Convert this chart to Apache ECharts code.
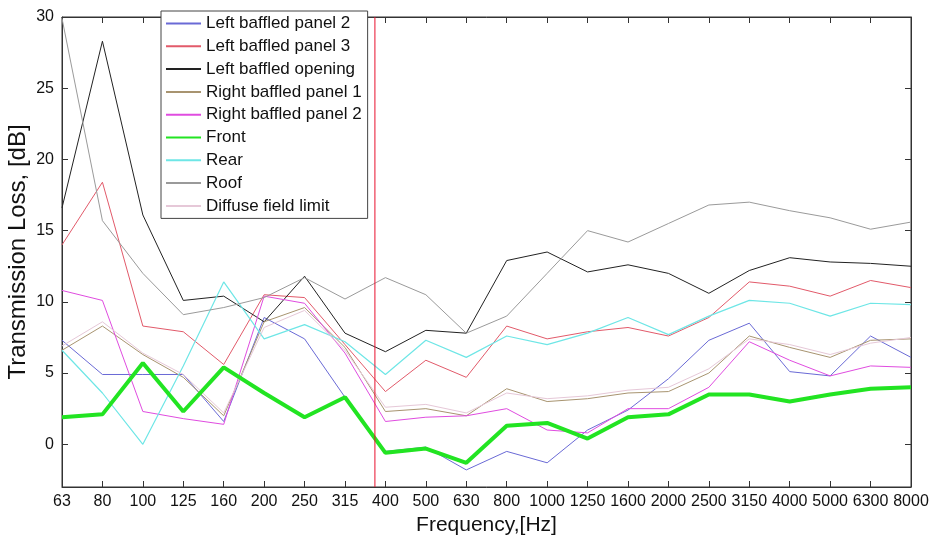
<!DOCTYPE html>
<html>
<head>
<meta charset="utf-8">
<script src="https://cdn.jsdelivr.net/npm/echarts@6/dist/echarts.min.js"></script>
<style>
  html, body { margin: 0; padding: 0; background: #fff; }
  #chart { width: 931px; height: 539px; }
</style>
</head>
<body>
<div id="chart"></div>
<script>
// One-third octave band centre frequencies [Hz]
const freqLabels = ['63','80','100','125','160','200','250','315','400','500','630',
  '800','1000','1250','1600','2000','2500','3150','4000','5000','6300','8000'];

// Transmission loss per band [dB]
const leftPanel2   = [7.3, 4.9, 4.9, 4.9, 1.6, 8.9, 7.4, 3.3, -0.5, -0.2, -1.8, -0.5, -1.3, 1.0, 2.4, 4.6, 7.3, 8.5, 5.1, 4.8, 7.6, 6.1];
const leftPanel3   = [14.0, 18.4, 8.3, 7.9, 5.6, 10.5, 10.3, 7.0, 3.7, 5.9, 4.7, 8.3, 7.4, 7.9, 8.2, 7.6, 8.9, 11.4, 11.1, 10.4, 11.5, 11.0];
const leftOpening  = [16.6, 28.3, 16.1, 10.1, 10.4, 8.6, 11.8, 7.8, 6.5, 8.0, 7.8, 12.9, 13.5, 12.1, 12.6, 12.0, 10.6, 12.2, 13.1, 12.8, 12.7, 12.5];
const rightPanel1  = [6.6, 8.3, 6.3, 4.7, 2.0, 8.6, 9.6, 6.8, 2.3, 2.5, 2.0, 3.9, 3.0, 3.2, 3.6, 3.7, 5.0, 7.6, 6.8, 6.1, 7.3, 7.4];
const rightPanel2  = [10.8, 10.1, 2.3, 1.8, 1.4, 10.4, 9.9, 6.4, 1.6, 1.9, 2.0, 2.5, 1.0, 0.8, 2.5, 2.5, 4.0, 7.2, 5.9, 4.8, 5.5, 5.4];
const front        = [1.9, 2.1, 5.7, 2.3, 5.4, 3.6, 1.9, 3.3, -0.6, -0.3, -1.3, 1.3, 1.5, 0.4, 1.9, 2.1, 3.5, 3.5, 3.0, 3.5, 3.9, 4.0];
const rear         = [6.6, 3.6, 0.0, 5.5, 11.4, 7.4, 8.4, 7.2, 4.9, 7.3, 6.1, 7.6, 7.0, 7.8, 8.9, 7.7, 9.0, 10.1, 9.9, 9.0, 9.9, 9.8];
const roof         = [29.9, 15.7, 12.0, 9.1, 9.6, 10.3, 11.7, 10.2, 11.7, 10.5, 7.8, 9.0, 12.0, 15.0, 14.2, 15.5, 16.8, 17.0, 16.4, 15.9, 15.1, 15.6];
const diffuseLimit = [6.9, 8.6, 6.4, 4.9, 2.2, 8.2, 9.4, 6.6, 2.6, 2.8, 2.2, 3.6, 3.2, 3.4, 3.8, 4.0, 5.3, 7.4, 7.0, 6.3, 7.1, 7.5];

// Band position (in band index units) of the vertical limit marker
const limitBand = 7.74;

// Value range of the dB axis and its labelled ticks
const yMin = -3;
const yMax = 30;
const yTicks = [0, 5, 10, 15, 20, 25, 30];

const FONT = 'Liberation Sans, Arial, Helvetica, sans-serif';
const LIMIT_COLOR = '#e8102c';

const seriesDefs = [
  { name: 'Left baffled panel 2', data: leftPanel2,   color: '#6a6ad6', width: 1 },
  { name: 'Left baffled panel 3', data: leftPanel3,   color: '#e25a6a', width: 1 },
  { name: 'Left baffled opening', data: leftOpening,  color: '#222222', width: 1 },
  { name: 'Right baffled panel 1', data: rightPanel1, color: '#a89470', width: 1 },
  { name: 'Right baffled panel 2', data: rightPanel2, color: '#e04ce0', width: 1 },
  { name: 'Front',                data: front,        color: '#22e422', width: 4 },
  { name: 'Rear',                 data: rear,         color: '#6ee6e6', width: 1.2 },
  { name: 'Roof',                 data: roof,         color: '#9a9a9a', width: 1 },
  { name: 'Diffuse field limit',  data: diffuseLimit, color: '#e6c8d8', width: 1 }
];

const series = seriesDefs.map(function (d) {
  return {
    name: d.name,
    type: 'line',
    symbol: 'none',
    data: d.data.map(function (v, i) { return [i, v]; }),
    lineStyle: { color: d.color, width: d.width },
    itemStyle: { color: d.color },
    z: d.name === 'Front' ? 3 : 2
  };
});

// Vertical limit line spanning the full dB range
series.push({
  name: 'limit',
  type: 'line',
  symbol: 'none',
  silent: true,
  data: [[limitBand, yMin], [limitBand, yMax]],
  lineStyle: { color: LIMIT_COLOR, width: 1 },
  itemStyle: { color: LIMIT_COLOR },
  z: 4
});

const chart = echarts.init(document.getElementById('chart'), null, { renderer: 'canvas' });

const plainAxisLine = { show: true, onZero: false, lineStyle: { color: '#333', width: 1 } };
const insideTick = { show: true, inside: true, length: 6, lineStyle: { color: '#333' } };

chart.setOption({
  animation: false,
  backgroundColor: '#ffffff',
  textStyle: { fontFamily: FONT },
  grid: {
    left: 62, right: 20, top: 17, bottom: 52,
    outerBoundsMode: 'none', containLabel: false,
    show: true, borderColor: '#333', borderWidth: 1, backgroundColor: 'transparent'
  },
  legend: {
    orient: 'vertical',
    left: 161, top: 11,
    padding: [4, 6, 4, 4],
    itemWidth: 35, itemHeight: 14, itemGap: 5.8,
    itemStyle: { opacity: 0, borderWidth: 0 },
    backgroundColor: '#ffffff',
    borderColor: '#444', borderWidth: 1,
    textStyle: { fontFamily: FONT, fontSize: 17, color: '#111', padding: [0, 0, 0, 0] },
    data: seriesDefs.map(function (d) { return d.name; })
  },
  xAxis: [
    {
      type: 'value', min: 0, max: freqLabels.length - 1, interval: 1,
      position: 'bottom',
      name: 'Frequency,[Hz]', nameLocation: 'middle', nameGap: 26,
      nameTextStyle: { fontFamily: FONT, fontSize: 21, color: '#111' },
      axisLine: plainAxisLine,
      axisTick: insideTick,
      axisLabel: {
        show: true, margin: 7, fontFamily: FONT, fontSize: 16, color: '#111',
        showMinLabel: true, showMaxLabel: true, hideOverlap: false,
        formatter: function (v) { return freqLabels[Math.round(v)] || ''; }
      },
      splitLine: { show: false }
    },
    {
      type: 'value', min: 0, max: freqLabels.length - 1, interval: 1,
      position: 'top',
      axisLine: plainAxisLine,
      axisTick: insideTick,
      axisLabel: { show: false },
      splitLine: { show: false }
    }
  ],
  yAxis: [
    {
      type: 'value', min: yMin, max: yMax,
      position: 'left',
      name: 'Transmission Loss, [dB]', nameLocation: 'middle', nameGap: 32,
      nameMoveOverlap: false,
      nameTextStyle: { fontFamily: FONT, fontSize: 24, color: '#111' },
      axisLine: plainAxisLine,
      axisTick: Object.assign({ customValues: yTicks }, insideTick),
      axisLabel: { show: true, margin: 8, fontFamily: FONT, fontSize: 16, color: '#111', customValues: yTicks },
      splitLine: { show: false }
    },
    {
      type: 'value', min: yMin, max: yMax,
      position: 'right',
      axisLine: plainAxisLine,
      axisTick: Object.assign({ customValues: yTicks }, insideTick),
      axisLabel: { show: false },
      splitLine: { show: false }
    }
  ],
  series: series
});
</script>
</body>
</html>
